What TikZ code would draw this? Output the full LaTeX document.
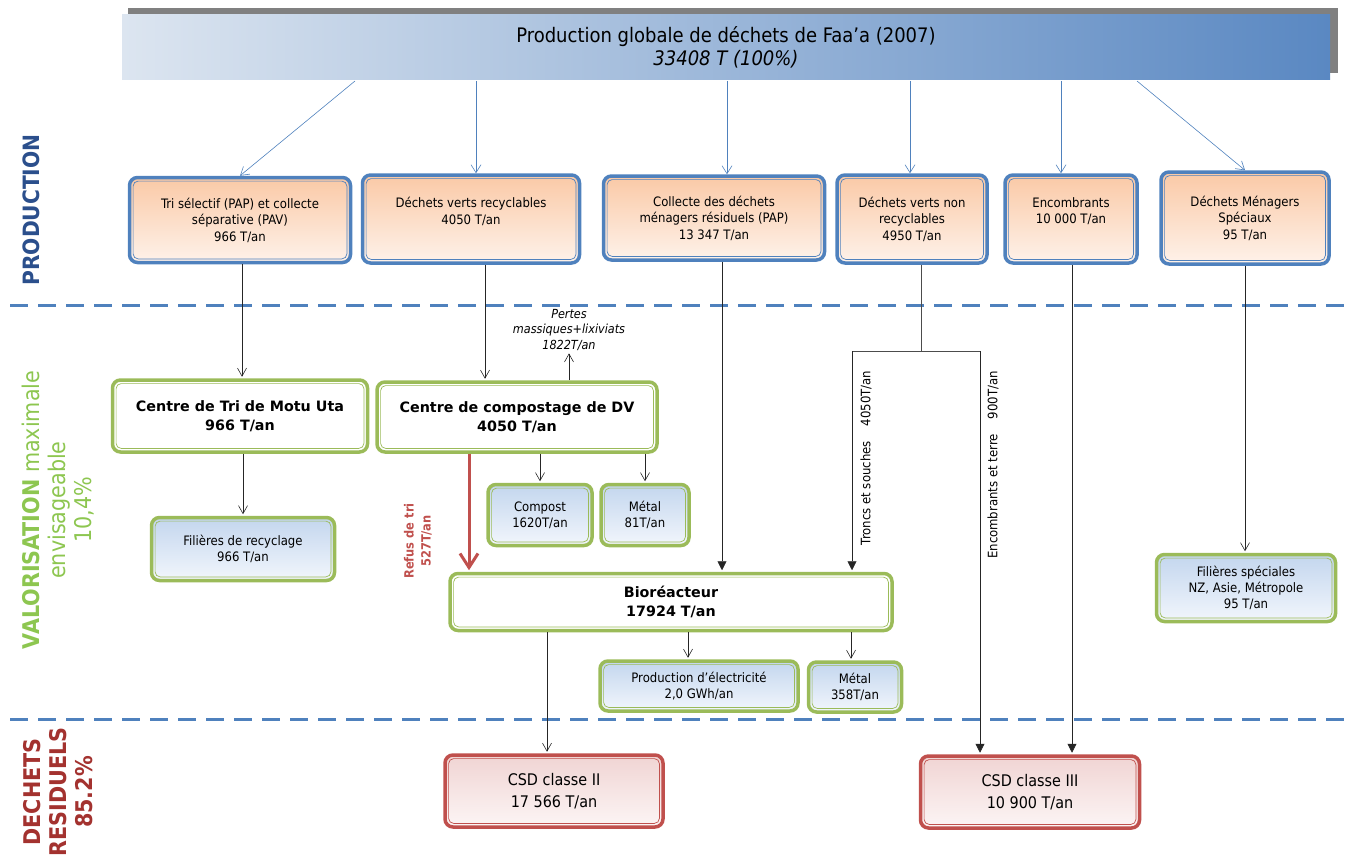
\documentclass[tikz,border=0pt]{standalone}
\usepackage{fontspec}
\setmainfont{DejaVu Sans Condensed}[BoldFont={DejaVu Sans Condensed Bold},ItalicFont={DejaVu Sans Condensed Oblique}]
\newfontfamily\widefont{DejaVu Sans}[BoldFont={DejaVu Sans Bold}]
\usepackage{xcolor}
\usetikzlibrary{arrows.meta}

\definecolor{prodblue}{HTML}{4F81BD}
\definecolor{valgreen}{HTML}{9BBB59}
\definecolor{csdred}{HTML}{C0504D}
\definecolor{peachtop}{HTML}{FAC9A6}
\definecolor{peachbot}{HTML}{FEF2EA}
\definecolor{skytop}{HTML}{C3D6EE}
\definecolor{skybot}{HTML}{F2F6FC}
\definecolor{rosetop}{HTML}{F0D4D3}
\definecolor{rosebot}{HTML}{FCF5F5}
\definecolor{bannerleft}{HTML}{DCE5F0}
\definecolor{bannerright}{HTML}{5A88C2}
\definecolor{prodlabel}{HTML}{2B4F8C}
\definecolor{vallabel}{HTML}{8DC650}
\definecolor{reslabel}{HTML}{A3322F}

\begin{document}
\begin{tikzpicture}[x=1pt,y=-1pt,
        dbl/.style={draw=#1, line width=3.5pt, rounded corners=8pt, align=center, inner sep=0pt,
            path picture={\draw[#1, line width=0.7pt, rounded corners=5pt]
                ([xshift=3.6pt,yshift=-3.6pt]path picture bounding box.north west) rectangle
                ([xshift=-3.6pt,yshift=3.6pt]path picture bounding box.south east);}},
        prodbox/.style={dbl=prodblue, top color=peachtop, bottom color=peachbot, font=\fontsize{13}{16.5}\selectfont},
        valbox/.style={dbl=valgreen, fill=white, font=\widefont\bfseries\fontsize{14.3}{19.5}\selectfont},
        outbox/.style={dbl=valgreen, top color=skytop, bottom color=skybot, font=\fontsize{13}{16}\selectfont},
        csdbox/.style={dbl=csdred, top color=rosetop, bottom color=rosebot, font=\fontsize{16}{22}\selectfont},
        spread/.style={draw=prodblue, line width=0.6pt, -{Straight Barb[length=8pt,width=10pt]}},
        flow/.style={draw=black!85, line width=0.6pt, shorten >=1.5pt, -{Straight Barb[length=8pt,width=9pt]}},
        feed/.style={draw=black!85, line width=0.6pt, shorten >=1.5pt, -{Triangle[length=9pt,width=9pt]}},
        plain/.style={draw=black!70, line width=0.6pt},
        refus/.style={draw=csdred, line width=3pt, shorten >=1.5pt, -{Straight Barb[length=14pt,width=18pt]}},
        sepline/.style={draw=prodblue, line width=3pt, dash pattern=on 18pt off 10pt},
        vlabel/.style={rotate=90, font=\fontsize{13}{16}\selectfont}]
                \useasboundingbox (0,0) rectangle (1354,856);

                \fill[black!50] (128,8) rectangle (1338,73);
                \node[minimum width=1208pt, minimum height=65pt, inner sep=0pt, left color=bannerleft, right color=bannerright,
                      align=center, font=\fontsize{20}{23.5}\selectfont] (prod) at (726,47.5)
                      {Production globale de déchets de Faa’a (2007)\\\textit{33408 T (100\%)}};

                \draw[sepline] (10,305) -- (1345,305);
                \draw[sepline] (10,719) -- (1345,719);

                \node[rotate=90, text=prodlabel, font=\bfseries\fontsize{22.5}{26}\selectfont] (lprod) at (31,210) {PRODUCTION};
                \node[rotate=90, align=center, text=vallabel, font=\fontsize{23}{26}\selectfont] (lval) at (58,510)
                      {\textbf{VALORISATION} maximale\\envisageable\\10,4\%};
                \node[rotate=90, align=center, text=reslabel, font=\bfseries\fontsize{23}{26}\selectfont] (lres) at (58,792)
                      {DECHETS\\RESIDUELS\\85.2\%};

                \node[prodbox, minimum width=221pt, minimum height=85pt] (tri) at (240,220)
                      {Tri sélectif (PAP) et collecte\\séparative (PAV)\\966 T/an};
                \node[prodbox, minimum width=217pt, minimum height=88pt] (dvr) at (471,219)
                      {Déchets verts recyclables\\4050 T/an\\~};
                \node[prodbox, minimum width=221pt, minimum height=84pt] (omr) at (714,218)
                      {Collecte des déchets\\ménagers résiduels (PAP)\\13 347 T/an};
                \node[prodbox, minimum width=150pt, minimum height=88pt] (dvnr) at (912,219)
                      {Déchets verts non\\recyclables\\4950 T/an};
                \node[prodbox, minimum width=132pt, minimum height=88pt] (enc) at (1071,219)
                      {Encombrants\\10 000 T/an\\~};
                \node[prodbox, minimum width=168pt, minimum height=92pt] (dms) at (1245,218)
                      {Déchets Ménagers\\Spéciaux\\95 T/an};

                \coordinate (b1) at (355,81);
                \coordinate (b2) at (476,81);
                \coordinate (b3) at (727,81);
                \coordinate (b4) at (910,81);
                \coordinate (b5) at (1061,81);
                \coordinate (b6) at (1137,81);
                \draw[spread] (b1) -- (tri.north);
                \draw[spread] (b2) -- (b2 |- dvr.north);
                \draw[spread] (b3) -- (b3 |- omr.north);
                \draw[spread] (b4) -- (b4 |- dvnr.north);
                \draw[spread] (b5) -- (b5 |- enc.north);
                \draw[spread] (b6) -- (dms.north);

                \node[valbox, minimum width=255pt, minimum height=72pt] (centri) at (240,416)
                      {Centre de Tri de Motu Uta\\966 T/an};
                \node[valbox, minimum width=280pt, minimum height=70pt] (compostage) at (517,417)
                      {Centre de compostage de DV\\4050 T/an};
                \node[outbox, minimum width=183pt, minimum height=63pt] (filrec) at (243,549)
                      {Filières de recyclage\\966 T/an};
                \node[outbox, minimum width=104pt, minimum height=61pt] (compost) at (540,515)
                      {Compost\\1620T/an};
                \node[outbox, minimum width=88pt, minimum height=61pt] (metala) at (645,515)
                      {Métal\\81T/an};
                \node[valbox, minimum width=442pt, minimum height=57pt] (bio) at (671,602)
                      {Bioréacteur\\17924 T/an};
                \node[outbox, minimum width=198pt, minimum height=50pt] (elec) at (699,686)
                      {Production d'électricité\\2,0 GWh/an};
                \node[outbox, minimum width=93pt, minimum height=50pt] (metalb) at (855,687)
                      {Métal\\358T/an};
                \node[outbox, minimum width=179pt, minimum height=67pt] (filspec) at (1246,588)
                      {Filières spéciales\\NZ, Asie, Métropole\\95 T/an};

                \node[csdbox, minimum width=218pt, minimum height=72pt] (csda) at (554,791)
                      {CSD classe II\\17 566 T/an};
                \node[csdbox, minimum width=219pt, minimum height=72pt] (csdb) at (1030,792)
                      {CSD classe III\\10 900 T/an};

                \node[align=center, inner sep=1pt, font=\itshape\fontsize{12.5}{15.5}\selectfont] (pertes) at (569,330)
                      {Pertes\\massiques+lixiviats\\1822T/an};
                \node[rotate=90, align=center, text=csdred, font=\bfseries\fontsize{12.7}{17}\selectfont] (refuslbl) at (418,541)
                      {Refus de tri\\527T/an};
                \node[vlabel] (troncs) at (866,458) {Troncs et souches\hspace{15pt}4050T/an};
                \node[vlabel] (encterre) at (993,465) {Encombrants et terre\hspace{15pt}900T/an};

                \draw[flow] ([xshift=2pt]tri.south) -- ([xshift=2pt]tri.south |- centri.north);
                \draw[flow] ([xshift=14pt]dvr.south) -- ([xshift=14pt]dvr.south |- compostage.north);
                \draw[flow] (pertes.south |- compostage.north) -- (pertes.south);
                \draw[flow] (filrec.north |- centri.south) -- (filrec.north);
                \draw[flow] (compost.north |- compostage.south) -- (compost.north);
                \draw[flow] (metala.north |- compostage.south) -- (metala.north);
                \draw[refus] ([xshift=-48pt]compostage.south) -- ([xshift=-48pt]compostage.south |- bio.north);
                \draw[feed] ([xshift=8pt]omr.south) -- ([xshift=8pt]omr.south |- bio.north);

                \coordinate (split) at (921,351);
                \coordinate (tl) at (852,351);
                \coordinate (tr) at (980,351);
                \draw[plain] ([xshift=9pt]dvnr.south) -- (split);
                \draw[plain] (tl) -- (tr);
                \draw[feed] (tl) -- (tl |- bio.north);
                \draw[feed] (tr) -- (tr |- csdb.north);
                \draw[feed] ([xshift=1pt]enc.south) -- ([xshift=1pt]enc.south |- csdb.north);
                \draw[flow] (dms.south) -- (dms.south |- filspec.north);

                \draw[flow] ([xshift=-7pt]csda.north |- bio.south) -- ([xshift=-7pt]csda.north);
                \draw[flow] ([xshift=-11pt]elec.north |- bio.south) -- ([xshift=-11pt]elec.north);
                \draw[flow] ([xshift=-4pt]metalb.north |- bio.south) -- ([xshift=-4pt]metalb.north);

                \end{tikzpicture}
\end{document}
